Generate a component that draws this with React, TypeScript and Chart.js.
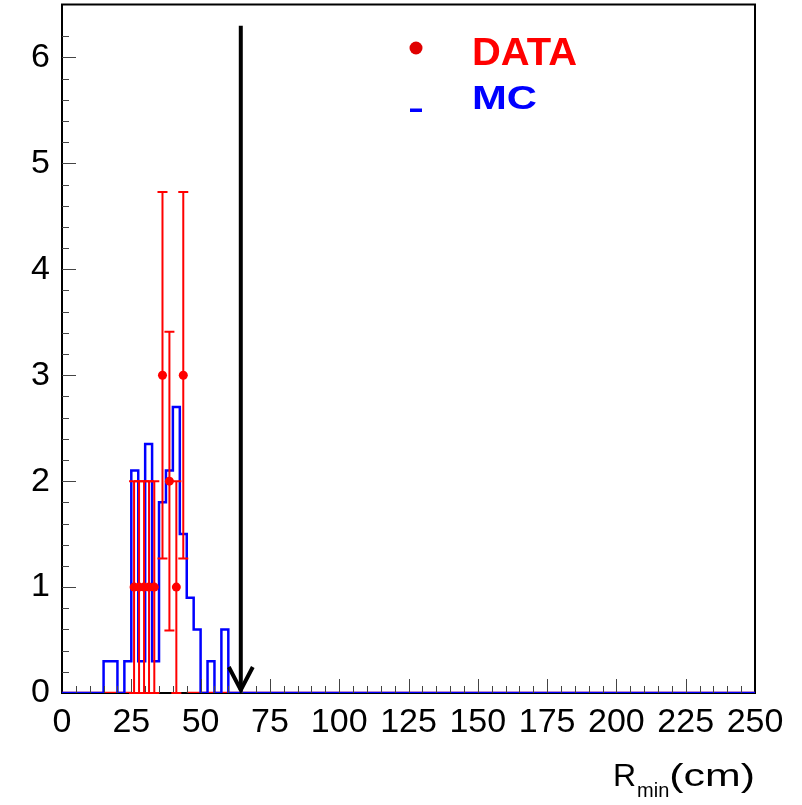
import React, { useEffect, useRef } from 'react';
import { Chart, registerables } from 'chart.js';

Chart.register(...registerables);

// ---- axes ----
const X_MIN = 0;
const X_MAX = 250;
const X_STEP = 5;
const X_LABEL_EVERY = 25;
const Y_MIN = 0;
const Y_MAX = 6.5;
const Y_STEP = 0.2;

// ---- MC histogram (bin width 2.5, bins starting at 15) ----
const MC_BIN_WIDTH = 2.5;
const MC_FIRST_EDGE = 15;
const MC_COUNTS = [0.3, 0.3, 0, 0.3, 2.1, 0.3, 2.35, 0.3, 1.8, 2.1, 2.7, 1.5, 0.9, 0.6, 0, 0.3, 0, 0.6];

// ---- DATA points ----
const DATA_X = [26.0, 27.8, 29.6, 31.4, 33.3, 36.25, 38.75, 41.25, 43.75];
const DATA_Y = [1, 1, 1, 1, 1, 3, 2, 1, 3];
const DATA_YERR = [1, 1, 1, 1, 1, 1.73, 1.41, 1, 1.73];
const DATA_XERR = [0.9, 0.9, 0.9, 0.9, 0.9, 1.25, 1.25, 1.25, 1.25];
const DATA_EMPTY_RANGES: [number, number][] = [[0, 25], [45, 250]];

// ---- cut arrow ----
const CUT_X = 64.5;
const CUT_TOP = 6.3;

const RED = '#ff0000';
const BLUE = '#0000ff';
const FONT = '"Liberation Sans", Arial, Helvetica, sans-serif';

function mcPoints() {
  const pts: { x: number; y: number }[] = [{ x: X_MIN, y: 0 }];
  MC_COUNTS.forEach((v, i) => pts.push({ x: MC_FIRST_EDGE + MC_BIN_WIDTH * i, y: v }));
  pts.push({ x: MC_FIRST_EDGE + MC_BIN_WIDTH * MC_COUNTS.length, y: 0 });
  pts.push({ x: X_MAX, y: 0 });
  return pts;
}

function emptyPoints() {
  const pts: { x: number; y: number | null }[] = [];
  DATA_EMPTY_RANGES.forEach(([a, b], i) => {
    if (i > 0) pts.push({ x: (a + DATA_EMPTY_RANGES[i - 1][1]) / 2, y: null });
    pts.push({ x: a, y: 0 });
    pts.push({ x: b, y: 0 });
  });
  return pts;
}

function fitText(ctx: CanvasRenderingContext2D, text: string, x: number, y: number, width: number) {
  const w = ctx.measureText(text).width;
  ctx.save();
  ctx.translate(x, y);
  ctx.scale(width / w, 1);
  ctx.fillText(text, 0, 0);
  ctx.restore();
}

const decorPlugin = {
  id: 'rootDecor',
  beforeDatasetsDraw(chart: any) {
    const { ctx, chartArea: a } = chart;
    ctx.save();
    ctx.strokeStyle = '#000';
    ctx.lineWidth = 2;
    ctx.strokeRect(a.left, a.top, a.right - a.left, a.bottom - a.top);
    ctx.restore();
  },
  afterDatasetsDraw(chart: any) {
    const { ctx, chartArea: a } = chart;
    const xs = chart.scales.x;
    const ys = chart.scales.y;
    ctx.save();
    // ticks inside the frame
    ctx.strokeStyle = '#444';
    ctx.lineWidth = 1;
    xs.ticks.forEach((t: any) => {
      const v = t.value;
      if (v <= X_MIN || v >= X_MAX) return;
      const px = Math.round(xs.getPixelForValue(v)) + 0.5;
      const major = Math.abs(v % X_LABEL_EVERY) < 1e-6;
      ctx.beginPath();
      ctx.moveTo(px, a.bottom);
      ctx.lineTo(px, a.bottom - (major ? 14 : 7));
      ctx.stroke();
    });
    ys.ticks.forEach((t: any) => {
      const v = t.value;
      if (v <= Y_MIN) return;
      const r = v / Y_STEP;
      if (Math.abs(r - Math.round(r)) > 1e-6) return;
      const py = Math.round(ys.getPixelForValue(v)) + 0.5;
      const major = Math.abs(v - Math.round(v)) < 1e-6;
      ctx.beginPath();
      ctx.moveTo(a.left, py);
      ctx.lineTo(a.left + (major ? 14 : 7), py);
      ctx.stroke();
    });

    // error bars
    ctx.strokeStyle = RED;
    ctx.lineWidth = 2;
    DATA_X.forEach((xv, i) => {
      const px = xs.getPixelForValue(xv);
      const py = ys.getPixelForValue(DATA_Y[i]);
      const lo = ys.getPixelForValue(DATA_Y[i] - DATA_YERR[i]);
      const hi = ys.getPixelForValue(DATA_Y[i] + DATA_YERR[i]);
      const xl = xs.getPixelForValue(xv - DATA_XERR[i]);
      const xr = xs.getPixelForValue(xv + DATA_XERR[i]);
      ctx.beginPath();
      ctx.moveTo(px, lo);
      ctx.lineTo(px, hi);
      ctx.moveTo(px - 5, lo);
      ctx.lineTo(px + 5, lo);
      ctx.moveTo(px - 5, hi);
      ctx.lineTo(px + 5, hi);
      ctx.moveTo(xl, py);
      ctx.lineTo(xr, py);
      ctx.stroke();
    });

    // cut arrow
    const ax = xs.getPixelForValue(CUT_X);
    const atop = ys.getPixelForValue(CUT_TOP);
    const abot = ys.getPixelForValue(0) - 3;
    ctx.strokeStyle = '#000';
    ctx.lineWidth = 4;
    ctx.lineCap = 'butt';
    ctx.beginPath();
    ctx.moveTo(ax, atop);
    ctx.lineTo(ax, abot);
    ctx.stroke();
    ctx.lineJoin = 'miter';
    ctx.beginPath();
    ctx.moveTo(ax - 12, abot - 23);
    ctx.lineTo(ax, abot);
    ctx.lineTo(ax + 12, abot - 23);
    ctx.stroke();
    ctx.restore();
  },
  afterDraw(chart: any) {
    const { ctx } = chart;
    ctx.save();
    // legend
    ctx.fillStyle = '#e00000';
    ctx.beginPath();
    ctx.arc(416, 48, 6.5, 0, Math.PI * 2);
    ctx.fill();
    ctx.fillStyle = BLUE;
    ctx.fillRect(410, 108.5, 12, 3.5);
    ctx.textBaseline = 'alphabetic';
    ctx.textAlign = 'left';
    ctx.font = `bold 38px ${FONT}`;
    ctx.fillStyle = RED;
    fitText(ctx, 'DATA', 472, 65, 105);
    ctx.fillStyle = BLUE;
    ctx.font = `bold 34px ${FONT}`;
    fitText(ctx, 'MC', 472, 108.5, 65);

    // axis title
    ctx.fillStyle = '#000';
    ctx.font = `32px ${FONT}`;
    ctx.fillText('R', 613, 786);
    const rW = ctx.measureText('R').width;
    ctx.font = `20px ${FONT}`;
    ctx.fillText('min', 613 + rW + 1, 797);
    const mW = ctx.measureText('min').width;
    ctx.font = `32px ${FONT}`;
    const cStart = 613 + rW + 1 + mW;
    fitText(ctx, '(cm)', cStart, 786, 755 - cStart);
    ctx.restore();
  },
};

export default function App() {
  const ref = useRef<HTMLCanvasElement | null>(null);
  useEffect(() => {
    document.body.style.margin = '0';
    const canvas = ref.current!;
    const chart = new Chart(canvas, {
      type: 'line',
      data: {
        datasets: [
          {
            label: 'DATA',
            data: DATA_X.map((x, i) => ({ x, y: DATA_Y[i] })),
            showLine: false,
            pointRadius: 4.5,
            pointBackgroundColor: RED,
            pointBorderWidth: 0,
            borderColor: RED,
          },
          {
            label: 'MC',
            data: mcPoints(),
            stepped: true,
            borderColor: BLUE,
            borderWidth: 2.5,
            pointRadius: 0,
            fill: false,
            tension: 0,
          },
          {
            label: 'DATA empty bins',
            data: emptyPoints(),
            borderColor: RED,
            borderWidth: 2.5,
            pointRadius: 0,
            fill: false,
            spanGaps: false,
          },
        ],
      },
      options: {
        animation: false,
        responsive: false,
        devicePixelRatio: 1,
        parsing: true,
        layout: { padding: { top: 4, right: 47, left: 0, bottom: 0 } },
        plugins: { legend: { display: false }, tooltip: { enabled: false } },
        scales: {
          x: {
            type: 'linear',
            position: 'bottom',
            min: X_MIN,
            max: X_MAX,
            grid: { display: false, drawTicks: false },
            border: { display: false },
            ticks: {
              stepSize: X_STEP,
              autoSkip: false,
              maxRotation: 0,
              minRotation: 0,
              padding: 9,
              color: '#000',
              font: { family: FONT, size: 34, lineHeight: 1.2 },
              callback: (v: any) => (Math.abs(Number(v) % X_LABEL_EVERY) < 1e-6 ? String(v) : ''),
            },
            afterFit: (s: any) => {
              s.height = 112;
              s.paddingLeft = 0;
              s.paddingRight = 0;
            },
          },
          y: {
            type: 'linear',
            min: Y_MIN,
            max: Y_MAX,
            grid: { display: false, drawTicks: false },
            border: { display: false },
            ticks: {
              stepSize: Y_STEP,
              autoSkip: false,
              padding: 12,
              color: '#000',
              font: { family: FONT, size: 34, lineHeight: 1.2 },
              callback: (v: any) => {
                const n = Number(v);
                return Math.abs(n - Math.round(n)) < 1e-6 ? String(Math.round(n)) : '';
              },
            },
            afterFit: (s: any) => {
              s.width = 62;
              s.paddingTop = 0;
              s.paddingBottom = 0;
            },
          },
        },
      },
      plugins: [decorPlugin],
    });
    return () => chart.destroy();
  }, []);
  return <canvas ref={ref} width={802} height={805} style={{ display: 'block' }} />;
}
